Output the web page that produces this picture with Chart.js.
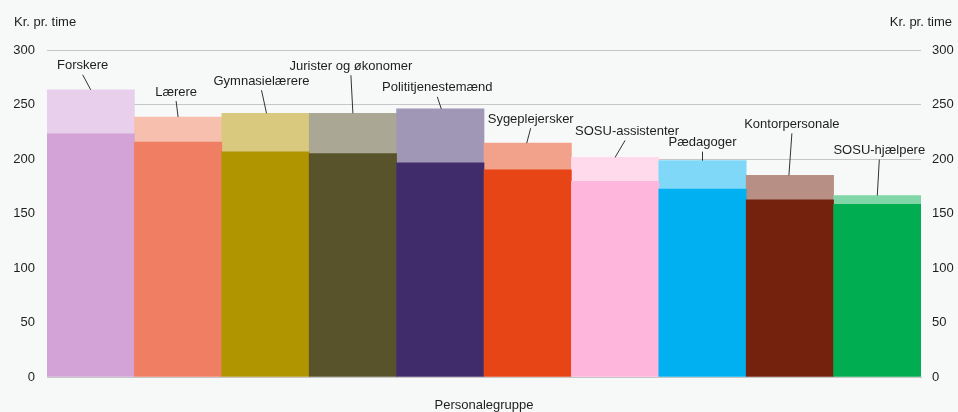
<!DOCTYPE html>
<html>
<head>
<meta charset="utf-8">
<script src="https://cdn.jsdelivr.net/npm/chart.js@4"></script>
<style>
  html, body { margin: 0; padding: 0; background: #f7f8f8; }
  #wrap { width: 958px; height: 412px; }
</style>
</head>
<body>
<div id="wrap"><canvas id="canvasChart" width="958" height="412"></canvas></div>
<script>
// Personalegrupper
const categories = ['Forskere', 'Lærere', 'Gymnasielærere', 'Jurister og økonomer', 'Polititjenestemænd',
    'Sygeplejersker', 'SOSU-assistenter', 'Pædagoger', 'Kontorpersonale', 'SOSU-hjælpere'];

// nederste del af søjlen (kr. pr. time)
const lowerValues = [223, 215.5, 206.5, 205, 196.5, 190, 179.5, 172.5, 162.5, 158.5];
// øverste del af søjlen (kr. pr. time)
const upperValues = [40.5, 23, 35.5, 37, 49.5, 24.5, 22, 26, 22.5, 8];

const yTicks = [0, 50, 100, 150, 200, 250, 300];

const lowerColors = ['#d3a3d8', '#f07e62', '#b09400', '#59532b', '#402c6b',
    '#e84517', '#ffb6dc', '#00b0f0', '#74220e', '#00ad50'];
const upperColors = ['#e8d0ec', '#f7bfae', '#d9c97e', '#aaa894', '#a096b6',
    '#f2a28a', '#ffd9ec', '#80d8f8', '#b88f84', '#80d6a7'];

// label placement relative to bar top: [text dx, text dy, line end dx]
const labelPlace = [[-8, -24, 0], [-2, -25, 0], [-4, -32, 1], [-2, -47, 0], [-3, -21, 1],
    [3, -24, -1], [12, -26, 0], [0, -18, 0], [2, -51, -1], [2, -45, 0]];

const FONT = "'Liberation Sans', Arial, sans-serif";
const TXT = '#1e1e1e';

const bgPlugin = {
    id: 'bg',
    beforeDraw(chart){
        const ctx = chart.ctx;
        ctx.save();
        ctx.fillStyle = '#f7f8f8';
        ctx.fillRect(0, 0, chart.width, chart.height);
        ctx.restore();
    }
};

const labelPlugin = {
    id: 'labels',
    afterDatasetsDraw(chart){
        const ctx = chart.ctx;
        const x = chart.scales.x;
        const y = chart.scales.y;
        ctx.save();
        ctx.font = '13px ' + FONT;
        ctx.fillStyle = TXT;
        ctx.textAlign = 'center';
        ctx.textBaseline = 'middle';
        ctx.strokeStyle = '#333';
        ctx.lineWidth = 1;
        for(let i = 0; i < categories.length; i++){
            const cx = x.getPixelForValue(i);
            const top = y.getPixelForValue(lowerValues[i] + upperValues[i]);
            const p = labelPlace[i];
            const tx = cx + p[0];
            const ty = top + p[1];
            ctx.fillText(categories[i], tx, ty);
            ctx.beginPath();
            ctx.moveTo(tx + (p[0] > 8 ? -2 : 0), ty + 9);
            ctx.lineTo(cx + p[2], top);
            ctx.stroke();
        }
        // axis titles
        ctx.textAlign = 'left';
        ctx.fillText('Kr. pr. time', 14, 22);
        ctx.textAlign = 'right';
        ctx.fillText('Kr. pr. time', 952, 22);
        ctx.textAlign = 'center';
        ctx.fillText('Personalegruppe', (chart.chartArea.left + chart.chartArea.right) / 2, 405);
        ctx.restore();
    }
};

const config = {
    type: 'bar',
    data: {
        labels: categories,
        datasets: [
            {
                label: 'Nederste del',
                data: lowerValues,
                backgroundColor: lowerColors,
                borderWidth: 0,
                stack: 's'
            },
            {
                label: 'Øverste del',
                data: upperValues,
                backgroundColor: upperColors,
                borderWidth: 0,
                stack: 's'
            }
        ]
    },
    options: {
        responsive: false,
        animation: false,
        devicePixelRatio: 1,
        layout: { padding: { top: 50, left: 0, right: 0, bottom: 0 } },
        plugins: {
            legend: { display: false },
            tooltip: { enabled: false }
        },
        datasets: {
            bar: { categoryPercentage: 1, barPercentage: 1 }
        },
        scales: {
            x: {
                stacked: true,
                grid: { display: false, drawTicks: false },
                border: { display: true, color: '#c6c6c6' },
                ticks: { display: false },
                afterFit(scale){ scale.height = 35; }
            },
            y: {
                stacked: true,
                position: 'left',
                min: 0,
                max: 300,
                afterBuildTicks(scale){ scale.ticks = yTicks.map(v => ({ value: v })); },
                grid: { color: '#c6c6c6', drawTicks: false },
                border: { display: false },
                ticks: { padding: 12, color: TXT, font: { size: 13, family: FONT } },
                afterFit(scale){ scale.width = 47; }
            },
            y2: {
                position: 'right',
                min: 0,
                max: 300,
                afterBuildTicks(scale){ scale.ticks = yTicks.map(v => ({ value: v })); },
                grid: { display: false, drawTicks: false },
                border: { display: false },
                ticks: { padding: 11, color: TXT, font: { size: 13, family: FONT } },
                afterFit(scale){ scale.width = 37; }
            }
        }
    },
    plugins: [bgPlugin, labelPlugin]
};

new Chart(document.getElementById('canvasChart').getContext('2d'), config);
</script>
</body>
</html>
